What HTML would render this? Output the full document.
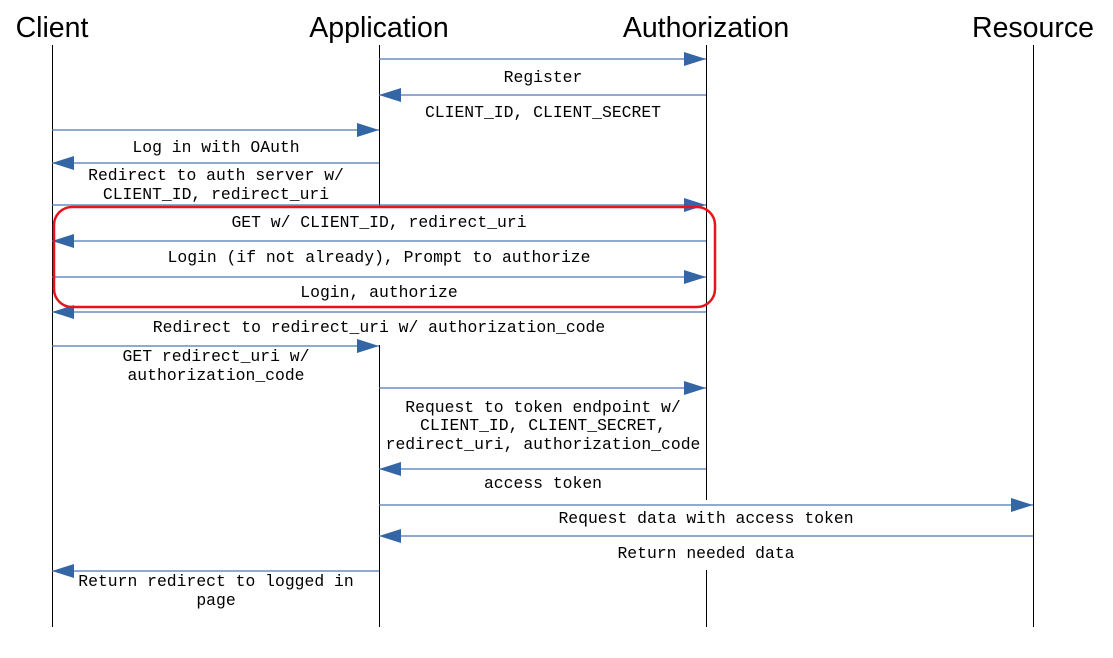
<!DOCTYPE html>
<html><head><meta charset="utf-8"><style>html,body{margin:0;padding:0;background:#fff}</style></head><body>
<svg width="1113" height="653" xmlns="http://www.w3.org/2000/svg">
<defs><marker id="a" markerWidth="22" markerHeight="14" refX="22" refY="7" orient="auto" markerUnits="userSpaceOnUse"><path d="M0,0 L22,7 L0,14 z" fill="#3465a4"/></marker></defs>
<g font-family="Liberation Sans, sans-serif" font-size="28.5" fill="#000" text-anchor="middle">
<text x="52" y="37">Client</text><text x="379" y="37">Application</text><text x="706" y="37">Authorization</text><text x="1033" y="37">Resource</text>
</g>
<g stroke="#000" stroke-width="1">
<line x1="52.5" y1="45" x2="52.5" y2="627"/>
<line x1="379.5" y1="45" x2="379.5" y2="206"/><line x1="379.5" y1="345" x2="379.5" y2="627"/>
<line x1="706.5" y1="45" x2="706.5" y2="500"/><line x1="706.5" y1="570" x2="706.5" y2="627"/>
<line x1="1033.5" y1="45" x2="1033.5" y2="627"/>
</g>
<g stroke="#4a78b5" stroke-width="1.3" marker-end="url(#a)">
<line x1="379" y1="59" x2="706" y2="59"/>
<line x1="706" y1="95" x2="379" y2="95"/>
<line x1="52" y1="130" x2="379" y2="130"/>
<line x1="379" y1="163" x2="52" y2="163"/>
<line x1="52" y1="205" x2="706" y2="205"/>
<line x1="706" y1="241" x2="52" y2="241"/>
<line x1="52" y1="277" x2="706" y2="277"/>
<line x1="706" y1="312" x2="52" y2="312"/>
<line x1="52" y1="346" x2="379" y2="346"/>
<line x1="379" y1="388" x2="706" y2="388"/>
<line x1="706" y1="469" x2="379" y2="469"/>
<line x1="379" y1="505" x2="1033" y2="505"/>
<line x1="1033" y1="536" x2="379" y2="536"/>
<line x1="379" y1="571" x2="52" y2="571"/>
</g>
<rect x="54" y="207" width="661" height="100" rx="18" ry="18" fill="none" stroke="#e8141b" stroke-width="2.5"/>
<g font-family="Liberation Mono, monospace" font-size="16.4" fill="#000" text-anchor="middle">
<text x="543" y="82">Register</text>
<text x="543" y="117">CLIENT_ID, CLIENT_SECRET</text>
<text x="216" y="152">Log in with OAuth</text>
<text x="216" y="180">Redirect to auth server w/</text>
<text x="216" y="199">CLIENT_ID, redirect_uri</text>
<text x="379" y="227">GET w/ CLIENT_ID, redirect_uri</text>
<text x="379" y="262">Login (if not already), Prompt to authorize</text>
<text x="379" y="297">Login, authorize</text>
<text x="379" y="332">Redirect to redirect_uri w/ authorization_code</text>
<text x="216" y="361">GET redirect_uri w/</text>
<text x="216" y="380">authorization_code</text>
<text x="543" y="412">Request to token endpoint w/</text>
<text x="543" y="430">CLIENT_ID, CLIENT_SECRET,</text>
<text x="543" y="449">redirect_uri, authorization_code</text>
<text x="543" y="488">access token</text>
<text x="706" y="523">Request data with access token</text>
<text x="706" y="558">Return needed data</text>
<text x="216" y="586">Return redirect to logged in</text>
<text x="216" y="605">page</text>
</g>
</svg>
</body></html>
